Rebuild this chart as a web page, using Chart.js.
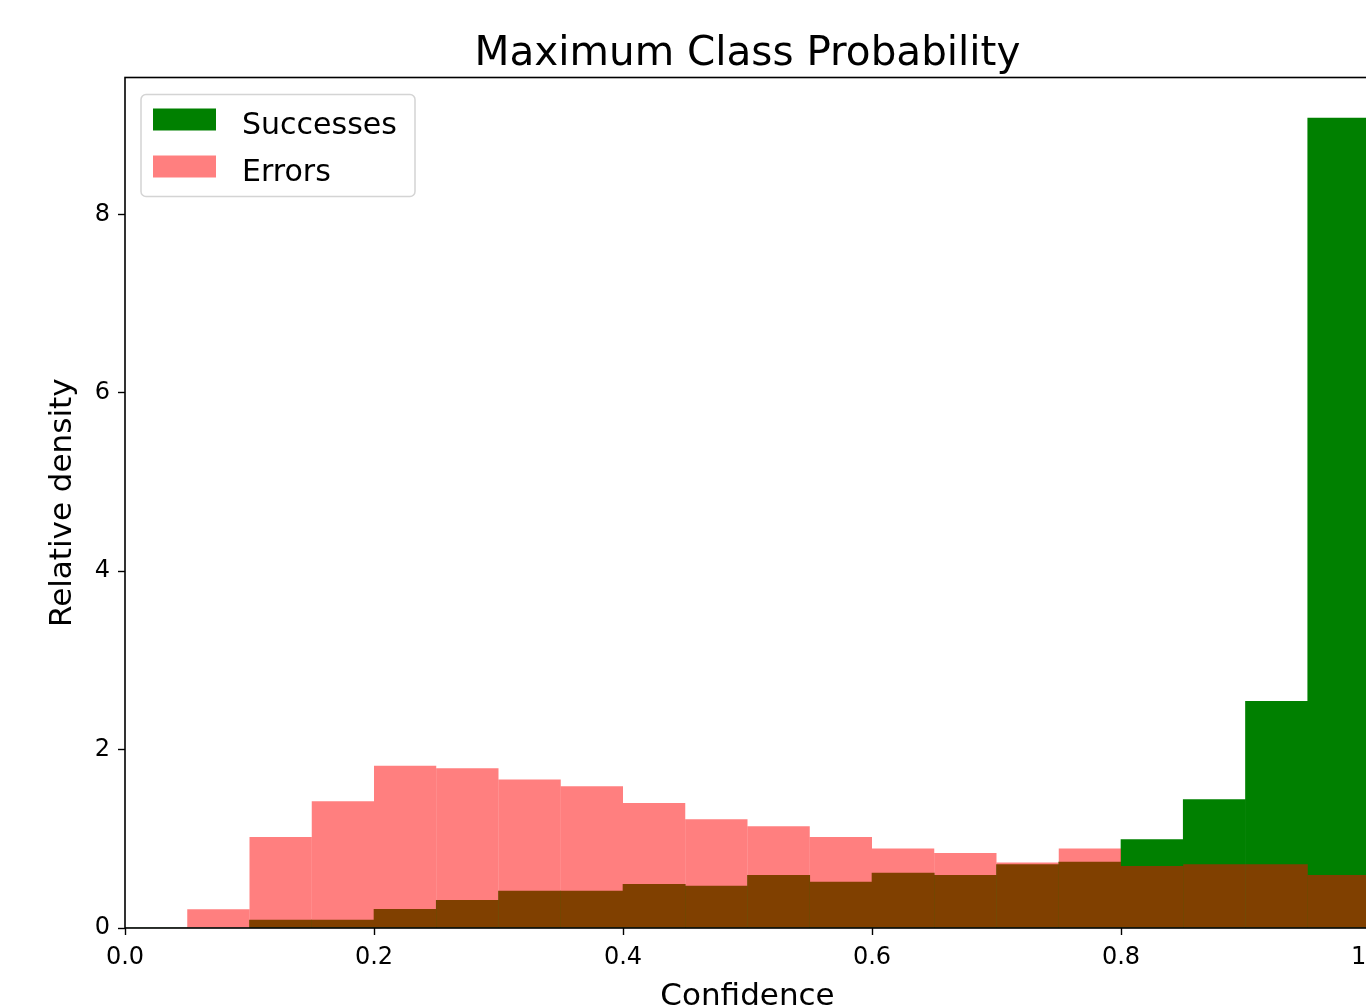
<!DOCTYPE html>
<html>
<head>
<meta charset="utf-8">
<title>Maximum Class Probability</title>
<script src="https://cdn.jsdelivr.net/npm/chart.js@4/dist/chart.umd.min.js"></script>
<style>
  html, body { margin: 0; padding: 0; background: #fff; overflow: hidden; }
  #wrap { width: 1495px; height: 1040px; }
</style>
</head>
<body>
<div id="wrap"><canvas id="chart" width="1495" height="1040"></canvas></div>
<script>
// Histogram bins (left edge of each bin, width 0.05)
const binLeft = [0.00, 0.05, 0.10, 0.15, 0.20, 0.25, 0.30, 0.35, 0.40, 0.45,
                 0.50, 0.55, 0.60, 0.65, 0.70, 0.75, 0.80, 0.85, 0.90, 0.95];
const binWidth = 0.05;

// Relative density per bin
const successes = [0, 0, 0.09, 0.09, 0.21, 0.31, 0.415, 0.415, 0.49, 0.47,
                   0.59, 0.515, 0.615, 0.59, 0.71, 0.74, 0.99, 1.44, 2.54, 9.08];
const errors    = [0, 0.21, 1.02, 1.42, 1.82, 1.79, 1.665, 1.59, 1.40, 1.22,
                   1.14, 1.02, 0.89, 0.84, 0.735, 0.89, 0.695, 0.715, 0.715, 0.595];

const seriesNames = ['Successes', 'Errors'];
const seriesColors = ['#008000', 'rgba(255,0,0,0.5)'];

const xTicks = [0.0, 0.2, 0.4, 0.6, 0.8, 1.0];
const yTicks = [0, 2, 4, 6, 8];
const xRange = [0, 1];
const yRange = [0, 9.535];

const FONT = "'DejaVu Sans', sans-serif";
Chart.defaults.font.family = FONT;
Chart.defaults.color = '#000';

const toPoints = vals => binLeft.map((x, i) => ({ x: x + binWidth / 2, y: vals[i] }));

// Axes frame on all four sides, above the bars
const framePlugin = {
  id: 'frame',
  afterDatasetsDraw(chart) {
    const { ctx, chartArea: a } = chart;
    ctx.save();
    ctx.strokeStyle = '#000';
    ctx.lineWidth = 1.6;
    ctx.strokeRect(a.left, a.top, a.right - a.left, a.bottom - a.top);
    ctx.restore();
  }
};

// Legend box in the upper-left corner of the plot
const insetLegend = {
  id: 'insetLegend',
  afterDraw(chart) {
    const { ctx, chartArea: a } = chart;
    const bx = a.left + 16, by = a.top + 17, bw = 274, bh = 102;
    ctx.save();
    ctx.beginPath();
    ctx.roundRect(bx, by, bw, bh, 5);
    ctx.fillStyle = 'rgba(255,255,255,0.8)';
    ctx.fill();
    ctx.lineWidth = 1.5;
    ctx.strokeStyle = '#d4d4d4';
    ctx.stroke();
    ctx.font = '30px ' + FONT;
    ctx.textBaseline = 'alphabetic';
    ctx.textAlign = 'left';
    seriesNames.forEach((name, i) => {
      const rowY = by + 14 + i * 47;
      ctx.fillStyle = seriesColors[i];
      ctx.fillRect(bx + 12, rowY, 63, 22);
      ctx.fillStyle = '#000';
      ctx.fillText(name, bx + 101, rowY + 25);
    });
    ctx.restore();
  }
};

new Chart(document.getElementById('chart'), {
  type: 'bar',
  data: {
    datasets: [
      {
        label: seriesNames[0],
        data: toPoints(successes),
        backgroundColor: seriesColors[0],
        order: 1
      },
      {
        label: seriesNames[1],
        data: toPoints(errors),
        backgroundColor: seriesColors[1],
        inflateAmount: 0,
        order: 0
      }
    ]
  },
  options: {
    responsive: false,
    animation: false,
    events: [],
    devicePixelRatio: 1,
    datasets: {
      bar: {
        grouped: false,
        barPercentage: 1,
        categoryPercentage: 1,
        borderWidth: 0
      }
    },
    layout: { padding: 0 },
    plugins: {
      legend: { display: false },
      tooltip: { enabled: false },
      title: {
        display: true,
        text: 'Maximum Class Probability',
        color: '#000',
        font: { size: 40.5, weight: 'normal', lineHeight: 1 },
        padding: { top: 34, bottom: 3 }
      }
    },
    scales: {
      x: {
        type: 'linear',
        min: xRange[0],
        max: xRange[1],
        offset: false,
        afterBuildTicks: s => { s.ticks = xTicks.map(v => ({ value: v })); },
        afterFit: s => { s.height = 1040 - 928; },
        ticks: {
          font: { size: 24 },
          color: '#000',
          padding: 8,
          maxRotation: 0,
          autoSkip: false,
          callback: v => Number(v).toFixed(1)
        },
        grid: {
          offset: false,
          drawOnChartArea: false,
          drawTicks: true,
          tickLength: 7,
          tickWidth: 1.4,
          tickColor: '#000'
        },
        border: { display: false },
        title: {
          display: true,
          text: 'Confidence',
          color: '#000',
          font: { size: 31, lineHeight: 1 },
          padding: { top: 0, bottom: 28 }
        }
      },
      y: {
        type: 'linear',
        min: yRange[0],
        max: yRange[1],
        afterBuildTicks: s => { s.ticks = yTicks.map(v => ({ value: v })); },
        afterFit: s => { s.width = 125; },
        ticks: {
          font: { size: 24 },
          color: '#000',
          padding: 8,
          callback: v => String(v)
        },
        grid: {
          drawOnChartArea: false,
          drawTicks: true,
          tickLength: 7,
          tickWidth: 1.4,
          tickColor: '#000'
        },
        border: { display: false },
        title: {
          display: true,
          text: 'Relative density',
          color: '#000',
          font: { size: 31, lineHeight: 1 },
          padding: { top: 47, bottom: 0 }
        }
      },
      // empty right-hand gutter so the plot spans 0..1 past the window edge
      yGutter: {
        type: 'linear',
        position: 'right',
        min: yRange[0],
        max: yRange[1],
        afterFit: s => { s.width = 125; },
        ticks: { display: false },
        grid: { display: false, drawTicks: false },
        border: { display: false },
        title: { display: false }
      }
    }
  },
  plugins: [framePlugin, insetLegend]
});
</script>
</body>
</html>
